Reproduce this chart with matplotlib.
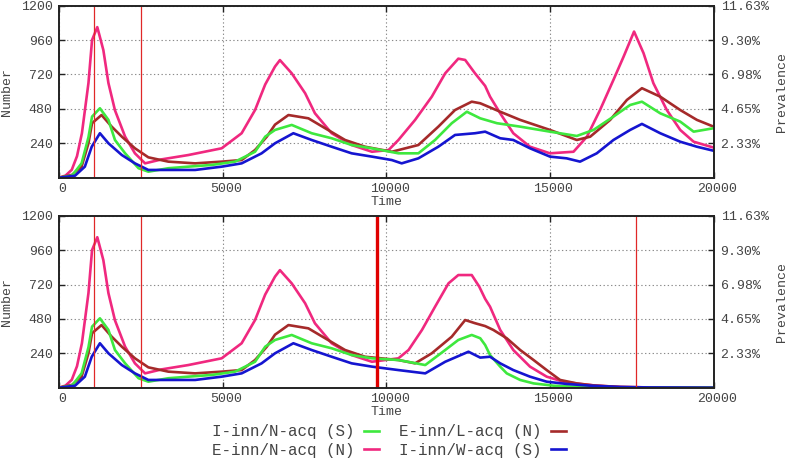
import matplotlib
matplotlib.use("Agg")
import matplotlib.pyplot as plt
import matplotlib.transforms as mtransforms
from matplotlib.lines import Line2D

# ---------------- data ----------------
# Shared early part (identical in both panels, t < ~9700)
pink_early_t = [0, 200, 390, 550, 700, 900, 1010, 1170, 1355, 1510, 1710, 2020, 2320, 2630, 3140,
                3950, 4970, 5580, 5990, 6300, 6600, 6750, 7110, 7520, 7820, 8330, 8940, 9560]
pink_early_v = [0, 15, 55, 150, 310, 660, 960, 1050, 890, 660, 470, 286, 170, 100, 128,
                158, 205, 310, 472, 650, 775, 820, 728, 589, 449, 310, 228, 181]

brown_early_t = [0, 400, 690, 900, 1010, 1300, 1610, 1920, 2320, 2730, 3340, 4160, 4970, 5580,
                 5990, 6350, 6600, 7010, 7620, 8130, 8740, 9350]
brown_early_v = [0, 20, 77, 240, 380, 437, 356, 286, 205, 142, 112, 100, 112, 123,
                 193, 286, 370, 437, 414, 345, 263, 216]

green_early_t = [0, 400, 690, 900, 1010, 1250, 1510, 1710, 2020, 2430, 2730, 3340, 3950, 4670,
                 5380, 5990, 6300, 6600, 7110, 7720, 8330, 8940, 9560]
green_early_v = [0, 15, 100, 282, 426, 484, 403, 263, 170, 66, 42, 66, 77, 89,
                 112, 181, 286, 333, 368, 310, 275, 228, 205]

blue_early_t = [0, 490, 790, 1000, 1250, 1510, 1920, 2320, 2730, 3340, 4160, 4970, 5580, 6190,
                6600, 7160, 7720, 8330, 8940, 9560]
blue_early_v = [0, 14, 77, 216, 310, 240, 158, 100, 54, 54, 54, 77, 100, 170,
                240, 310, 263, 216, 170, 147]

# Top panel, later part
pink_top_t = [10070, 10370, 10880, 11390, 11800, 12200, 12410, 12710, 13020, 13170, 13480, 13880,
              14390, 15000, 15720, 16130, 16530, 16940, 17250, 17570, 17860, 18160, 18570, 18980,
              19390, 20000]
pink_top_v = [193, 263, 403, 565, 728, 830, 821, 728, 640, 565, 449, 310,
              216, 170, 181, 286, 472, 682, 844, 1019, 868, 659, 472, 333,
              251, 210]
brown_top_t = [10170, 10980, 11590, 12100, 12610, 12870, 13480, 14090, 15000, 15820, 16230, 16840,
               17350, 17810, 18370, 18980, 19490, 20000]
brown_top_v = [181, 228, 356, 472, 530, 519, 460, 403, 333, 263, 286, 403,
               542, 624, 565, 472, 403, 356]
green_top_t = [10370, 10980, 11490, 12000, 12460, 12870, 13380, 14090, 15000, 15820, 16330, 16940,
               17450, 17810, 18370, 18980, 19390, 20000]
green_top_v = [170, 170, 263, 380, 460, 414, 380, 356, 321, 291, 333, 426,
               507, 530, 449, 391, 321, 345]
blue_top_t = [10170, 10470, 10980, 11590, 12100, 12710, 13020, 13480, 13880, 14390, 15000, 15510,
              15920, 16430, 16940, 17450, 17810, 18370, 18980, 19490, 20000]
blue_top_v = [123, 100, 135, 216, 298, 310, 321, 275, 263, 205, 147, 135,
              112, 170, 263, 333, 375, 310, 251, 216, 188]

# Bottom panel, later part
pink_bot_t = [10370, 10680, 11090, 11490, 11900, 12200, 12610, 12840, 13020, 13170, 13480, 13880,
              14390, 14900, 15410, 15920, 16430, 17150, 18000, 20000]
pink_bot_v = [205, 263, 403, 565, 728, 786, 786, 705, 620, 565, 403, 263,
              147, 77, 42, 26, 14, 5, 2, 0]
brown_bot_t = [10370, 10880, 11390, 12000, 12410, 12710, 13020, 13270, 13680, 14090, 14500, 14900,
               15310, 15820, 16330, 17150, 18000, 20000]
brown_bot_v = [193, 170, 240, 356, 472, 450, 430, 403, 345, 263, 193, 123,
               54, 30, 16, 5, 2, 0]
green_bot_t = [10370, 11190, 11800, 12200, 12610, 12870, 13020, 13170, 13480, 13680, 14090, 14500,
               15110, 15920, 17000, 20000]
green_bot_v = [193, 158, 263, 333, 368, 345, 298, 228, 147, 100, 54, 30,
               14, 5, 1, 0]
blue_bot_t = [10370, 11190, 11800, 12510, 12870, 13170, 13480, 13880, 14390, 14900, 15520, 16230,
              17150, 18000, 20000]
blue_bot_v = [123, 100, 181, 251, 210, 216, 170, 123, 77, 42, 26, 14,
              5, 2, 0]

series_labels = ["I-inn/N-acq (S)", "E-inn/N-acq (N)", "E-inn/L-acq (N)", "I-inn/W-acq (S)"]
series_colors = ["#3ee83e", "#f0287f", "#a52a2a", "#1515d0"]

top_vlines = [1080, 2500]
bot_vlines = [1080, 2500, 17640]
bot_thick_vline = 9730

x_ticks = [0, 5000, 10000, 15000, 20000]
y_ticks = [240, 480, 720, 960, 1200]
prev_labels = ["2.33%", "4.65%", "6.98%", "9.30%", "11.63%"]

# ---------------- figure ----------------
W, H = 788, 462
fig = plt.figure(figsize=(W / 100, H / 100), dpi=100)
FONT = "Liberation Mono"
TXT = "#444444"
plt.rcParams["font.family"] = FONT

L, R = 59, 713.6
panels = [(5.6, 177.7), (215.7, 387.7)]

top_series = [
    (green_early_t + green_top_t, green_early_v + green_top_v),
    (pink_early_t + pink_top_t, pink_early_v + pink_top_v),
    (brown_early_t + brown_top_t, brown_early_v + brown_top_v),
    (blue_early_t + blue_top_t, blue_early_v + blue_top_v),
]
bot_series = [
    (green_early_t + green_bot_t, green_early_v + green_bot_v),
    (pink_early_t + pink_bot_t, pink_early_v + pink_bot_v),
    (brown_early_t + brown_bot_t, brown_early_v + brown_bot_v),
    (blue_early_t + blue_bot_t, blue_early_v + blue_bot_v),
]

offset = mtransforms.ScaledTranslation(3.5 / 100, 0, fig.dpi_scale_trans)

for pi, (y0, y1) in enumerate(panels):
    ax = fig.add_axes([L / W, 1 - y1 / H, (R - L) / W, (y1 - y0) / H])
    data = top_series if pi == 0 else bot_series
    for i in [1, 2, 0, 3]:
        t, v = data[i]
        ax.plot(t, v, color=series_colors[i], lw=1.9, label=series_labels[i], zorder=3,
                solid_joinstyle="round")
    vl = top_vlines if pi == 0 else bot_vlines
    for xv in vl:
        ax.axvline(xv, color="#e02828", lw=0.9, zorder=4)
    if pi == 1:
        ax.axvline(bot_thick_vline, color="#e00000", lw=2.4, zorder=4)

    ax.set_xlim(0, 20000)
    ax.set_ylim(0, 1200)
    ax.set_xticks(x_ticks)
    ax.set_yticks(y_ticks)
    ax.set_xticklabels([str(x) for x in x_ticks])
    ax.set_yticklabels([str(y) for y in y_ticks])
    ax.tick_params(axis="both", direction="in", length=4.5, width=1.0, color="#222222",
                   labelsize=9.5, labelcolor=TXT)
    ax.tick_params(axis="x", top=True, pad=3.5)
    ax.tick_params(axis="y", right=False, pad=4.5)
    for lab in ax.get_xticklabels():
        lab.set_transform(lab.get_transform() + offset)
    ax.grid(True, which="major", linestyle=(0, (1.2, 2.2)), color="#8a8a8a", lw=0.8, zorder=1)
    for s in ax.spines.values():
        s.set_linewidth(1.4)
        s.set_color("#222222")
        s.set_zorder(5)
    ax.set_xlabel("Time", fontsize=9.5, color=TXT, va="center")
    ax.xaxis.set_label_coords(0.5, -0.14)
    ax.set_ylabel("Number", fontsize=9.5, color=TXT, va="center", ha="center")
    ax.yaxis.set_label_coords(-0.0787, 0.5)

    ax2 = ax.twinx()
    ax2.set_ylim(0, 1200)
    ax2.set_yticks(y_ticks)
    ax2.set_yticklabels(prev_labels)
    ax2.tick_params(axis="y", direction="in", length=4.5, width=1.0, color="#222222",
                    labelsize=9.5, labelcolor=TXT, pad=5)
    for s in ax2.spines.values():
        s.set_visible(False)
    ax2.set_ylabel("Prevalence", fontsize=9.5, color=TXT, va="center", ha="center")
    ax2.yaxis.set_label_coords(1.1045, 0.5)

    if pi == 1:
        handles = [Line2D([], [], color=c, lw=1.9) for c in series_colors]
        fig.legend(handles, series_labels, loc="center", ncol=2,
                   bbox_to_anchor=(389 / W, 1 - 441 / H), frameon=False,
                   markerfirst=False, handlelength=0.95, handletextpad=0.6,
                   columnspacing=1.25, labelspacing=0.2,
                   prop={"family": FONT, "size": 11.4}, labelcolor=TXT,
                   borderpad=0.2)

fig.savefig("out.png", dpi=100)
